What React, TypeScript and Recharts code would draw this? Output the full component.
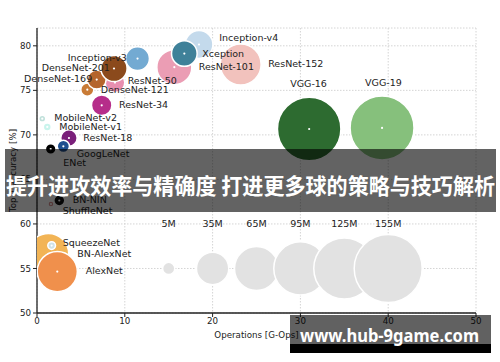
import React from "react";
import {
  ScatterChart,
  Scatter,
  XAxis,
  YAxis,
  ZAxis,
  CartesianGrid,
  Label,
} from "recharts";

// models, drawn back to front
const models = [
  "VGG-16", "VGG-19", "ResNet-152", "Inception-v4", "ResNet-101", "Xception",
  "Inception-v3", "ResNet-50", "DenseNet-121", "DenseNet-169", "DenseNet-201",
  "ResNet-34", "MobileNet-v2", "MobileNet-v1", "ResNet-18", "GoogLeNet", "ENet",
  "ShuffleNet", "BN-NIN", "BN-AlexNet", "AlexNet", "SqueezeNet",
];
const operations = [
  31.0, 39.3, 23.2, 18.45, 15.64, 16.78, 11.45, 8.88, 5.73, 6.8, 8.77, 7.37,
  0.6, 1.17, 3.64, 3.0, 1.56, 1.59, 2.54, 1.29, 2.31, 1.67,
];
const accuracy = [
  70.66, 70.78, 77.9, 80.15, 77.6, 79.13, 78.57, 75.87, 75.08, 76.21, 77.45,
  73.32, 71.82, 70.89, 69.65, 68.71, 68.41, 62.23, 62.63, 56.64, 54.65, 57.57,
];
const parameters = [
  135, 137, 56, 26, 41, 22, 19, 13, 5.7, 12, 23, 14, 1.6, 2.1, 9, 5, 3.8, 1.2,
  4, 56, 54, 2,
];

// size legend
const legendSizes = [5, 35, 65, 95, 125, 155];
const legendOps = [15, 20, 25, 30, 35, 40];
const legendLabels = ["5M", "35M", "65M", "95M", "125M", "155M"];
const legendAccuracy = 55;
const legendLabelAccuracy = 60;

const xTicks = [0, 10, 20, 30, 40, 50];
const yTicks = [50, 55, 60, 65, 70, 75, 80];

const bannerText = "提升进攻效率与精确度 打进更多球的策略与技巧解析";
const watermarkText = "www.hub-9game.com";

const colorOf: Record<string, string> = {
  "VGG-16": "#2d6b30",
  "VGG-19": "#86c07c",
  "ResNet-152": "#f2c2bd",
  "Inception-v4": "#c4daec",
  "ResNet-101": "#eb9db4",
  Xception: "#3f8199",
  "Inception-v3": "#73aad2",
  "ResNet-50": "#e88fb0",
  "DenseNet-121": "#c97b36",
  "DenseNet-169": "#b5652c",
  "DenseNet-201": "#8b4a1c",
  "ResNet-34": "#b62d8a",
  "MobileNet-v2": "#bfe0da",
  "MobileNet-v1": "#c8f4ec",
  "ResNet-18": "#7a1f7a",
  GoogLeNet: "#1f4f8f",
  ENet: "#000000",
  ShuffleNet: "#d89090",
  "BN-NIN": "#111111",
  "BN-AlexNet": "#f2b455",
  AlexNet: "#f0904c",
  SqueezeNet: "#cfe2e6",
};

// label text offset from bubble centre [dx, dy] in px
const labelOffset: Record<string, [number, number]> = {
  "VGG-16": [-19, -45],
  "VGG-19": [-17, -45.5],
  "ResNet-152": [27.5, -0.7],
  "Inception-v4": [20.3, -6.7],
  "ResNet-101": [24.4, -1],
  Xception: [18, 0],
  "Inception-v3": [-69.8, -0.7],
  "ResNet-50": [12.7, -2],
  "DenseNet-121": [13.4, 0],
  "DenseNet-169": [-72.7, -0.7],
  "DenseNet-201": [-72.3, -0.7],
  "ResNet-34": [17.3, -0.4],
  "MobileNet-v2": [12, -0.7],
  "MobileNet-v1": [12, -0.6],
  "ResNet-18": [14.3, -0.6],
  GoogLeNet: [13.4, 7.6],
  ENet: [12.6, 13.4],
  ShuffleNet: [11.7, 6.7],
  "BN-NIN": [13.4, -0.7],
  "BN-AlexNet": [29, -0.7],
  AlexNet: [28.4, -0.7],
  SqueezeNet: [11, -3.4],
};

const modelData = models.map((name, i) => ({
  name,
  x: operations[i],
  y: accuracy[i],
  z: parameters[i],
}));
const sizeData = legendSizes.map((z, i) => ({
  name: legendLabels[i],
  x: legendOps[i],
  y: legendAccuracy,
  z,
}));
const sizeLabelData = legendLabels.map((name, i) => ({
  name,
  x: legendOps[i],
  y: legendLabelAccuracy,
  z: 1,
}));

const FONT = "'DejaVu Sans', sans-serif";

const Bubble = (p: any) => {
  const r = p.width / 2;
  return (
    <g>
      <circle
        cx={p.cx}
        cy={p.cy}
        r={r}
        fill={colorOf[p.payload.name]}
        stroke="#fff"
        strokeWidth={1.5}
      />
      <circle cx={p.cx} cy={p.cy} r={1.1} fill="#fff" />
    </g>
  );
};

const GrayBubble = (p: any) => (
  <circle
    cx={p.cx}
    cy={p.cy}
    r={p.width / 2}
    fill="#e2e2e2"
    stroke="#fff"
    strokeWidth={1.5}
  />
);

const NameLabel = (p: any) => {
  const [dx, dy] = labelOffset[p.payload.name];
  return (
    <text
      x={p.cx + dx}
      y={p.cy + dy}
      dominantBaseline="central"
      fontSize={9.5}
      fontFamily={FONT}
      fill="#222"
    >
      {p.payload.name}
    </text>
  );
};

const SizeLabel = (p: any) => (
  <text
    x={p.cx}
    y={p.cy}
    textAnchor="middle"
    dominantBaseline="central"
    fontSize={9.5}
    fontFamily={FONT}
    fill="#222"
  >
    {p.payload.name}
  </text>
);

export default function App() {
  return (
    <div
      style={{
        position: "absolute",
        left: 0,
        top: 0,
        width: 500,
        height: 362,
        background: "#fff",
        fontFamily: FONT,
        overflow: "hidden",
      }}
    >
      <ScatterChart
        width={500}
        height={362}
        margin={{ top: 28, right: 24, bottom: 19, left: 7 }}
      >
        <CartesianGrid stroke="#d4d4d4" strokeDasharray="1.5 1.5" />
        <XAxis
          type="number"
          dataKey="x"
          domain={[0, 50]}
          ticks={xTicks}
          allowDataOverflow
          height={30}
          tickSize={4}
          tickMargin={1}
          axisLine={{ stroke: "#222", strokeWidth: 1.3 }}
          tickLine={{ stroke: "#222" }}
          tick={{ fontSize: 8.7, fill: "#222", fontFamily: FONT }}
        >
          <Label
            value="Operations [G-Ops]"
            position="insideBottom"
            offset={5}
            style={{ fontSize: 8.7, fill: "#222", fontFamily: FONT }}
          />
        </XAxis>
        <YAxis
          type="number"
          dataKey="y"
          domain={[50, 82]}
          ticks={yTicks}
          allowDataOverflow
          width={30}
          tickSize={4}
          tickMargin={2}
          axisLine={{ stroke: "#222", strokeWidth: 1.3 }}
          tickLine={{ stroke: "#222" }}
          tick={{ fontSize: 8.7, fill: "#222", fontFamily: FONT }}
        >
          <Label
            value="Top-1 accuracy [%]"
            angle={-90}
            position="insideLeft"
            offset={5.5}
            textAnchor="middle"
            style={{ fontSize: 8.7, fill: "#222", fontFamily: FONT, textAnchor: "middle" }}
          />
        </YAxis>
        <XAxis xAxisId="t" type="number" dataKey="x" domain={[0, 50]} hide />
        <YAxis yAxisId="t" type="number" dataKey="y" domain={[50, 82]} hide />
        <ZAxis type="number" dataKey="z" domain={[0, 155]} range={[0, 3632]} />
        <Scatter data={sizeData} shape={GrayBubble} isAnimationActive={false} />
        <Scatter data={sizeLabelData} shape={SizeLabel} isAnimationActive={false} />
        <Scatter data={modelData} shape={Bubble} isAnimationActive={false} />
        <Scatter
          data={modelData}
          xAxisId="t"
          yAxisId="t"
          shape={NameLabel}
          isAnimationActive={false}
        />
      </ScatterChart>

      {/* banner + watermark overlay */}
      <svg
        width={500}
        height={362}
        style={{ position: "absolute", left: 0, top: 0 }}
      >
        <rect x={5} y={149} width={491} height={63} fill="rgba(0,0,0,0.61)" />
        <text
          x={6}
          y={193.5}
          textLength={489}
          lengthAdjust="spacingAndGlyphs"
          fill="#fff"
          fontSize={22}
          fontWeight={700}
          fontFamily="'Noto Sans CJK SC', sans-serif"
        >
          {bannerText}
        </text>
        <rect x={290} y={315} width={201} height={29} fill="rgba(0,0,0,0.62)" />
        <rect x={290} y={344} width={201} height={9} fill="#000" />
        <text
          x={300}
          y={341.5}
          textLength={179}
          lengthAdjust="spacingAndGlyphs"
          fill="#fff"
          fontSize={18.5}
          fontWeight={700}
          fontFamily="'Noto Sans', sans-serif"
        >
          {watermarkText}
        </text>
      </svg>
    </div>
  );
}
